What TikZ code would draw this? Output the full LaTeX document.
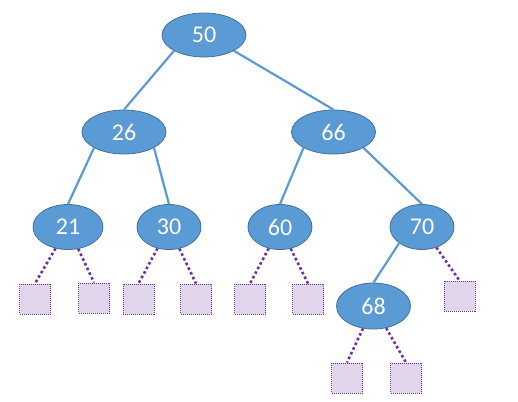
\documentclass[tikz,border=0pt]{standalone}
\usepackage{fontspec}
\setmainfont{Carlito}
\usetikzlibrary{shapes.geometric}
\definecolor{nodeblue}{HTML}{5B9BD5}
\definecolor{nodeedge}{HTML}{41719C}
\definecolor{leaffill}{HTML}{E1D5EC}
\definecolor{leafedge}{HTML}{7030A0}
\begin{document}
\begin{tikzpicture}[x=1pt,y=-1pt,
 key/.style={ellipse, draw=nodeedge, line width=0.8pt, fill=nodeblue, text=white, inner sep=0pt, font=\fontsize{24}{28}\selectfont},
 big/.style={key, minimum width=84pt, minimum height=44pt},
 small/.style={key, minimum width=64pt, minimum height=45pt},
 leaf/.style={rectangle, draw=leafedge, fill=leaffill, line width=0.9pt, dash pattern=on 1pt off 1pt, minimum width=31pt, minimum height=30pt, inner sep=0pt},
 tree/.style={draw=nodeblue, line width=2.2pt},
 nil/.style={draw=leafedge, line width=2.6pt, dash pattern=on 2.6pt off 2.6pt}]
\useasboundingbox (0,0) rectangle (518,401);
\node[big] (n50) at (204,35) {50};
\node[big] (n26) at (124,132) {26};
\node[big] (n66) at (333.5,132) {66};
\node[key, minimum width=70pt, minimum height=45pt] (n21) at (68,227) {21};
\node[small] (n30) at (169,227) {30};
\node[small] (n60) at (280,227) {60};
\node[small] (n70) at (422,227) {70};
\node[key, minimum width=74pt, minimum height=46pt] (n68) at (373.5,306) {68};
\node[leaf] (a1) at (35,299) {};
\node[leaf] (a2) at (94,298) {};
\node[leaf] (b1) at (138.5,299) {};
\node[leaf] (b2) at (196,299) {};
\node[leaf] (c1) at (250,299) {};
\node[leaf] (c2) at (308,299) {};
\node[leaf] (d2) at (459.5,296) {};
\node[leaf] (e1) at (347,378) {};
\node[leaf] (e2) at (406,378) {};
\draw[tree] (n50.south west) -- (n26.north);
\draw[tree] (n50.south east) -- (n66.north);
\draw[tree] (n26.south west) -- (n21.north);
\draw[tree] (n26.south east) -- (n30.north);
\draw[tree] (n66.south west) -- (n60.north);
\draw[tree] (n66.south east) -- (n70.north);
\draw[tree] (n70.south west) -- (n68.north);
\draw[nil] (n21) -- (a1.north);
\draw[nil] (n21) -- (a2.north);
\draw[nil] (n30) -- (b1.north);
\draw[nil] (n30) -- (b2.north);
\draw[nil] (n60) -- (c1.north);
\draw[nil] (n60) -- (c2.north);
\draw[nil] (n70) -- (d2.north);
\draw[nil] (n68) -- (e1.north);
\draw[nil] (n68) -- (e2.north);
\end{tikzpicture}
\end{document}
